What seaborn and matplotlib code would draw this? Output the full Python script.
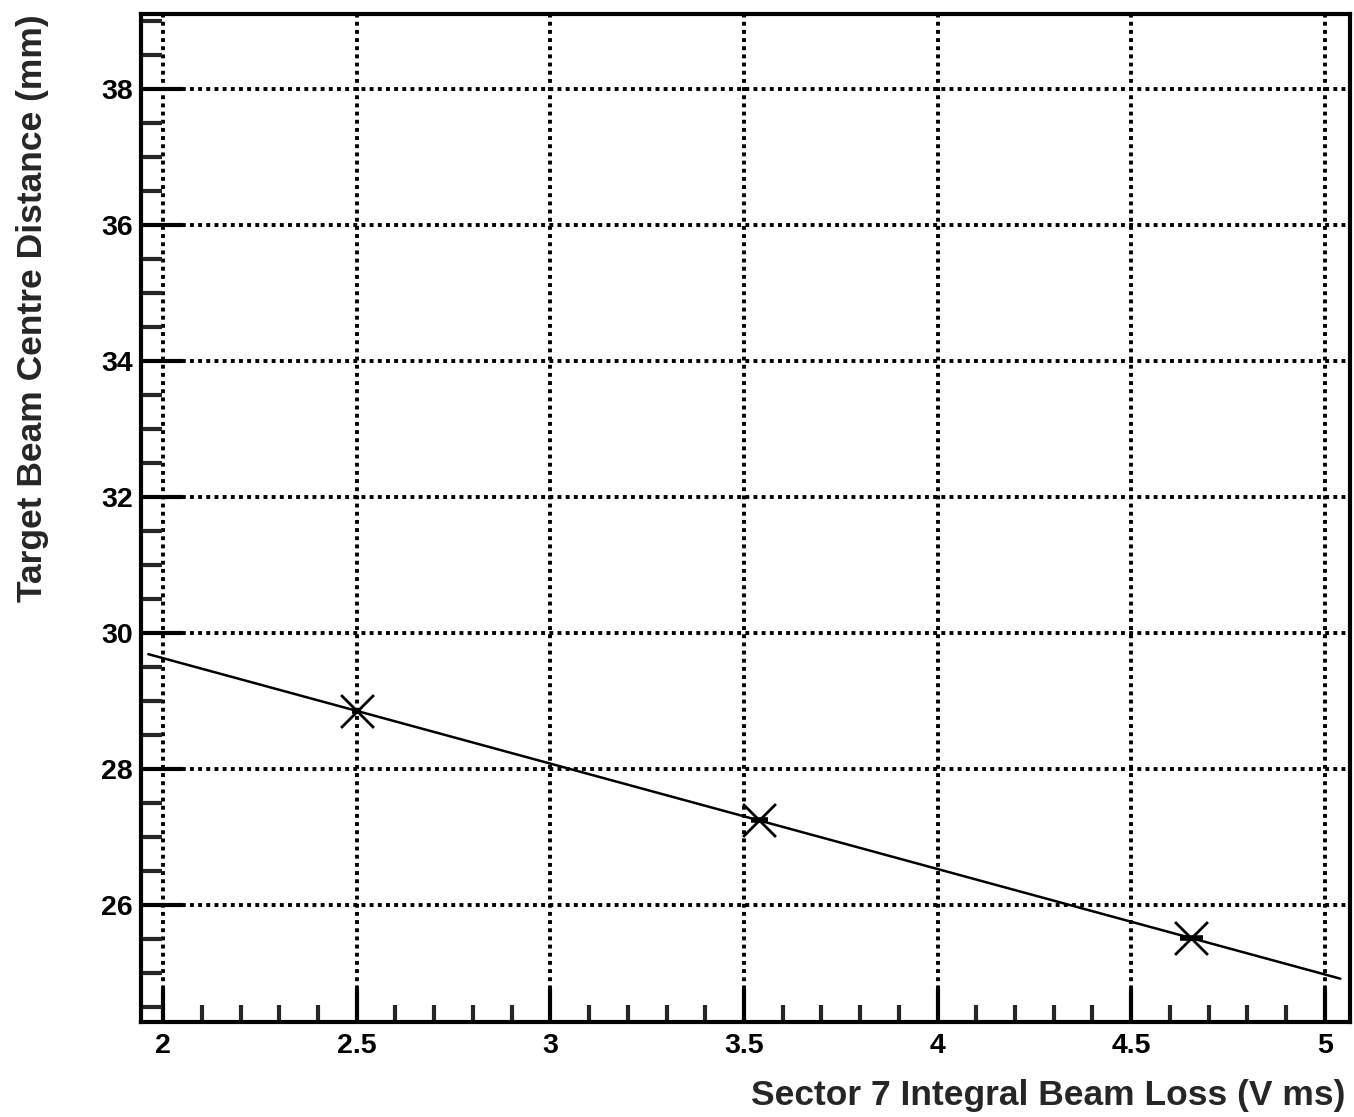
import numpy as np
import pandas as pd
import matplotlib
matplotlib.use("Agg")
import matplotlib.pyplot as plt
import seaborn as sns
from matplotlib.ticker import MultipleLocator

# Measured points
beam_loss = [2.50, 3.54, 4.655]        # Sector 7 integral beam loss (V ms)
beam_loss_err = [0.012, 0.023, 0.030]  # horizontal uncertainty
centre_dist = [28.85, 27.25, 25.51]    # target beam centre distance (mm)

x_ticks = [2, 2.5, 3, 3.5, 4, 4.5, 5]
x_tick_labels = ["2", "2.5", "3", "3.5", "4", "4.5", "5"]
y_ticks = [26, 28, 30, 32, 34, 36, 38]
y_tick_labels = ["26", "28", "30", "32", "34", "36", "38"]

sns.set_theme(style="white")
plt.rcParams["font.family"] = ["Liberation Sans", "DejaVu Sans"]
plt.rcParams["font.weight"] = "bold"

fig = plt.figure(figsize=(13.54, 11.17), dpi=100)
ax = fig.add_axes([141 / 1354, 1 - 1022 / 1117, (1350 - 141) / 1354, (1022 - 14) / 1117])

df = pd.DataFrame({"loss": beam_loss, "dist": centre_dist})

# Straight-line fit through the points
slope, intercept = np.polyfit(beam_loss, centre_dist, 1)
fit_x = np.array([1.962, 5.04])
fit_df = pd.DataFrame({"loss": fit_x, "dist": slope * fit_x + intercept})
sns.lineplot(data=fit_df, x="loss", y="dist", ax=ax, color="black", lw=1.8, zorder=3)

ax.errorbar(beam_loss, centre_dist, xerr=beam_loss_err, fmt="none",
            ecolor="black", elinewidth=4, capsize=0, zorder=4)
sns.scatterplot(data=df, x="loss", y="dist", ax=ax, marker="x", s=560,
                color="black", linewidth=2.0, zorder=5)

ax.set_xlim(1.943, 5.065)
ax.set_ylim(24.28, 39.10)

ax.set_xticks(x_ticks)
ax.set_xticklabels(x_tick_labels)
ax.set_yticks(y_ticks)
ax.set_yticklabels(y_tick_labels)
ax.xaxis.set_minor_locator(MultipleLocator(0.1))
ax.yaxis.set_minor_locator(MultipleLocator(0.5))

ax.grid(True, which="major", color="black", linestyle=(0, (1, 1.1)), linewidth=2.8)

for s in ax.spines.values():
    s.set_color("black")
    s.set_linewidth(3)

ax.tick_params(axis="x", which="major", direction="in", length=24, width=3,
               bottom=True, top=False, labelsize=20.5, pad=8, colors="black")
ax.tick_params(axis="x", which="minor", direction="in", length=12, width=3,
               bottom=True, top=False)
ax.tick_params(axis="y", which="major", direction="in", length=30, width=3,
               left=True, right=False, labelsize=20.5, pad=6, colors="black")
ax.tick_params(axis="y", which="minor", direction="in", length=15, width=3,
               left=True, right=False)
for lab in ax.get_xticklabels() + ax.get_yticklabels():
    lab.set_fontweight("bold")

ax.set_xlabel("Sector 7 Integral Beam Loss (V ms)", fontsize=25.5, fontweight="bold",
              ha="right", va="top")
ax.xaxis.set_label_coords(0.996, -0.057)
ax.set_ylabel("Target Beam Centre Distance (mm)", fontsize=25.5, fontweight="bold",
              ha="right", va="bottom")
ax.yaxis.set_label_coords(-0.076, 1.0)

fig.savefig("out.png", dpi=100, facecolor="white")
